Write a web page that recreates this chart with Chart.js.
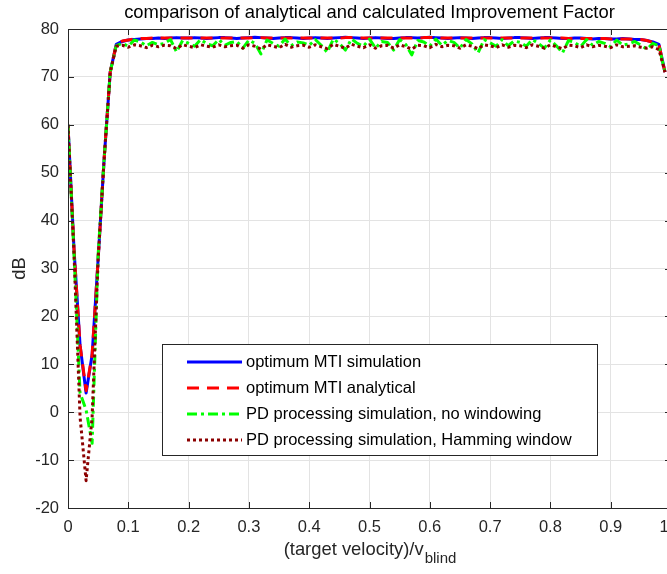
<!DOCTYPE html>
<html><head><meta charset="utf-8">
<script src="https://cdn.jsdelivr.net/npm/chart.js@4"></script>
<style>html,body{margin:0;padding:0;overflow:hidden;background:#fff;} canvas{display:block;}</style>
</head><body>
<canvas id="c" width="700" height="574"></canvas>
<script>
const velocity = [0,0.01,0.02,0.03,0.04,0.05,0.06,0.07,0.08,0.09,
0.10,0.11,0.12,0.13,0.14,0.15,0.16,0.17,0.18,0.19,
0.20,0.21,0.22,0.23,0.24,0.25,0.26,0.27,0.28,0.29,
0.30,0.31,0.32,0.33,0.34,0.35,0.36,0.37,0.38,0.39,
0.40,0.41,0.42,0.43,0.44,0.45,0.46,0.47,0.48,0.49,
0.50,0.51,0.52,0.53,0.54,0.55,0.56,0.57,0.58,0.59,
0.60,0.61,0.62,0.63,0.64,0.65,0.66,0.67,0.68,0.69,
0.70,0.71,0.72,0.73,0.74,0.75,0.76,0.77,0.78,0.79,
0.80,0.81,0.82,0.83,0.84,0.85,0.86,0.87,0.88,0.89,
0.90,0.91,0.92,0.93,0.94,0.95,0.96,0.97,0.98,0.99];

const mtiSimulation = [60,34,14,4,12,32,53,71,76.8,77.4,
77.7,77.8,77.9,78.0,78.0,78.1,78.0,78.1,78.2,78.1,
78.1,78.2,78.1,78.0,78.1,78.2,78.2,78.1,78.0,78.1,
78.2,78.3,78.2,78.1,78.0,78.1,78.2,78.2,78.1,78.0,
78.1,78.2,78.1,78.0,78.1,78.2,78.3,78.2,78.1,78.0,
78.1,78.2,78.1,78.0,78.0,78.1,78.2,78.2,78.1,78.2,
78.3,78.2,78.1,78.0,78.1,78.2,78.1,78.0,78.1,78.2,
78.2,78.1,78.0,78.1,78.2,78.2,78.1,78.0,78.1,78.2,
78.2,78.1,78.0,78.0,78.1,78.1,78.0,77.9,78.0,78.0,
77.9,77.9,78.0,77.9,77.8,77.8,77.6,77.3,76.8,71.0];

const mtiAnalytical = [60,34,14,4.5,12,32,53,71,76.8,77.5,
77.7,77.9,78.0,78.0,78.1,78.1,78.1,78.1,78.1,78.1,
78.1,78.1,78.1,78.1,78.1,78.1,78.1,78.1,78.1,78.1,
78.1,78.2,78.2,78.1,78.1,78.1,78.1,78.1,78.1,78.1,
78.1,78.1,78.1,78.1,78.1,78.1,78.2,78.2,78.1,78.1,
78.1,78.1,78.1,78.1,78.1,78.1,78.1,78.1,78.1,78.2,
78.2,78.2,78.1,78.1,78.1,78.1,78.1,78.1,78.1,78.1,
78.1,78.1,78.1,78.1,78.1,78.1,78.1,78.1,78.1,78.1,
78.1,78.1,78.1,78.0,78.0,78.0,78.0,78.0,78.0,78.0,
77.9,77.9,77.9,77.9,77.8,77.8,77.6,77.2,76.7,71.0];

const pdNoWindow = [60,33,4,0.5,-6.5,33,53,71,76.5,77.0,
76.4,77.7,77.3,76.5,77.2,76.7,77.0,77.8,75.2,77.6,
77.0,76.4,77.8,76.9,76.5,77.8,76.6,77.2,77.4,76.0,
77.7,77.0,74.8,77.7,77.0,76.4,77.9,76.5,77.3,77.1,
76.6,77.8,76.6,75.1,77.9,77.0,75.6,77.9,77.0,76.4,
77.9,76.0,77.4,77.2,75.6,77.8,76.8,74.6,77.6,77.3,
76.4,77.9,76.6,77.6,77.2,76.0,77.8,76.9,75.0,77.8,
77.1,76.4,77.8,76.5,77.5,77.2,76.4,77.8,77.0,76.0,
77.7,76.5,75.0,77.6,77.2,76.3,77.8,76.6,77.4,77.0,
76.3,77.7,76.6,76.9,77.4,76.6,75.8,77.0,76.5,71.0];

const pdHamming = [60,33,-1,-14.3,-1,32,53,71,76.4,76.6,
76.2,76.7,76.5,76.1,76.6,76.3,76.6,76.5,75.9,76.7,
76.4,76.1,76.7,76.4,76.2,76.7,76.3,76.5,76.6,76.0,
76.7,76.4,75.8,76.7,76.4,76.1,76.8,76.2,76.5,76.6,
76.2,76.7,76.3,75.9,76.8,76.4,76.0,76.8,76.4,76.1,
76.7,76.0,76.5,76.6,76.0,76.7,76.3,75.8,76.6,76.5,
76.1,76.8,76.3,76.6,76.5,76.0,76.7,76.4,75.9,76.7,
76.5,76.1,76.7,76.2,76.6,76.5,76.1,76.7,76.4,76.0,
76.7,76.3,75.9,76.6,76.5,76.1,76.7,76.3,76.6,76.4,
76.1,76.7,76.3,76.4,76.5,76.2,76.0,76.3,75.7,71.0];

const seriesLabels = ['optimum MTI simulation','optimum MTI analytical',
  'PD processing simulation, no windowing','PD processing simulation, Hamming window'];
const titleText = 'comparison of analytical and calculated Improvement Factor';
const yLabel = 'dB';
const xLabelMain = '(target velocity)/v';
const xLabelSub = 'blind';

const FONT = '"Liberation Sans", Arial, Helvetica, sans-serif';
const AX = '#262626';

function pts(arr){ return velocity.map((v,i)=>({x:v,y:arr[i]})); }

const styles = [
  {color:'#0000ff', dash:[]},
  {color:'#ff0000', dash:[12,8]},
  {color:'#00ff00', dash:[10,4,3,4]},
  {color:'#8b0000', dash:[3,3]}
];
const allSeries = [mtiSimulation, mtiAnalytical, pdNoWindow, pdHamming];

const datasets = allSeries.map((s,i)=>({
  label: seriesLabels[i],
  data: pts(s),
  borderColor: styles[i].color,
  backgroundColor: styles[i].color,
  borderDash: styles[i].dash,
  borderWidth: 3,
  pointRadius: 0,
  tension: 0,
  fill: false,
  borderCapStyle: 'butt',
  borderJoinStyle: 'round',
  order: 4 - i
}));

const decor = {
  id: 'decor',
  afterDraw(chart){
    const ctx = chart.ctx;
    const a = chart.chartArea;
    const xs = chart.scales.x, ys = chart.scales.y;
    ctx.save();
    // box lines
    ctx.strokeStyle = AX; ctx.lineWidth = 1;
    ctx.beginPath();
    ctx.moveTo(a.left+0.5, a.bottom+0.5); ctx.lineTo(a.left+0.5, a.top+0.5);
    ctx.lineTo(a.right+0.5, a.top+0.5); ctx.lineTo(a.right+0.5, a.bottom+0.5);
    ctx.lineTo(a.left+0.5, a.bottom+0.5);
    ctx.stroke();
    // inner ticks
    const tl = 6;
    ctx.beginPath();
    xs.ticks.forEach(t=>{
      const px = Math.round(xs.getPixelForValue(t.value))+0.5;
      ctx.moveTo(px, a.bottom); ctx.lineTo(px, a.bottom-tl);
      ctx.moveTo(px, a.top); ctx.lineTo(px, a.top+tl);
    });
    ys.ticks.forEach(t=>{
      const py = Math.round(ys.getPixelForValue(t.value))+0.5;
      ctx.moveTo(a.left, py); ctx.lineTo(a.left+tl, py);
      ctx.moveTo(a.right, py); ctx.lineTo(a.right-tl, py);
    });
    ctx.stroke();

    // title
    ctx.fillStyle = '#000';
    ctx.font = '18.4px ' + FONT;
    ctx.textAlign = 'center'; ctx.textBaseline = 'middle';
    ctx.fillText(titleText, (a.left+a.right)/2, 13);

    // y label
    ctx.fillStyle = AX;
    ctx.save();
    ctx.translate(20, (a.top+a.bottom)/2);
    ctx.rotate(-Math.PI/2);
    ctx.fillText(yLabel, 0, 0);
    ctx.restore();

    // x label with subscript
    ctx.font = '18.4px ' + FONT;
    const wMain = ctx.measureText(xLabelMain).width;
    ctx.font = '15px ' + FONT;
    const wSub = ctx.measureText(xLabelSub).width;
    const x0 = (a.left+a.right)/2 - (wMain+wSub)/2;
    ctx.textAlign = 'left';
    ctx.font = '18.4px ' + FONT;
    ctx.fillText(xLabelMain, x0, 550);
    ctx.font = '15px ' + FONT;
    ctx.fillText(xLabelSub, x0 + wMain + 1, 559);

    // legend
    const L = {x:162, y:344, w:435, h:111};
    ctx.fillStyle = '#fff';
    ctx.fillRect(L.x, L.y, L.w, L.h);
    ctx.strokeStyle = '#262626'; ctx.lineWidth = 1;
    ctx.strokeRect(L.x+0.5, L.y+0.5, L.w, L.h);
    const rowY = [362, 388, 414, 440];
    chart.data.datasets.forEach((ds,i)=>{
      const y = rowY[i];
      ctx.save();
      ctx.strokeStyle = ds.borderColor;
      ctx.lineWidth = 3;
      ctx.setLineDash(ds.borderDash || []);
      ctx.beginPath(); ctx.moveTo(187, y); ctx.lineTo(242, y); ctx.stroke();
      ctx.restore();
      ctx.fillStyle = '#000';
      ctx.font = '16.5px ' + FONT;
      ctx.textAlign = 'left'; ctx.textBaseline = 'middle';
      ctx.fillText(ds.label, 246, y);
    });
    ctx.restore();
  }
};

new Chart(document.getElementById('c'), {
  type: 'line',
  data: { datasets },
  options: {
    responsive: false,
    animation: false,
    devicePixelRatio: 1,
    layout: { padding: { top: 29, right: 29, left: 0, bottom: 0 } },
    plugins: { legend: { display: false }, tooltip: { enabled: false }, title: { display: false } },
    scales: {
      x: {
        type: 'linear', min: 0, max: 1,
        afterFit(s){ s.height = 66; },
        ticks: { stepSize: 0.1, autoSkip: false, maxRotation: 0, padding: 10,
          color: AX, font: { family: FONT, size: 16.5 } },
        grid: { color: '#e3e3e3', drawTicks: false, tickLength: 0 },
        border: { display: false }
      },
      y: {
        type: 'linear', min: -20, max: 80,
        afterFit(s){ s.width = 68; },
        ticks: { stepSize: 10, autoSkip: false, padding: 9,
          color: AX, font: { family: FONT, size: 16.5 } },
        grid: { color: '#e3e3e3', drawTicks: false, tickLength: 0 },
        border: { display: false }
      }
    }
  },
  plugins: [decor]
});
</script></body></html>
